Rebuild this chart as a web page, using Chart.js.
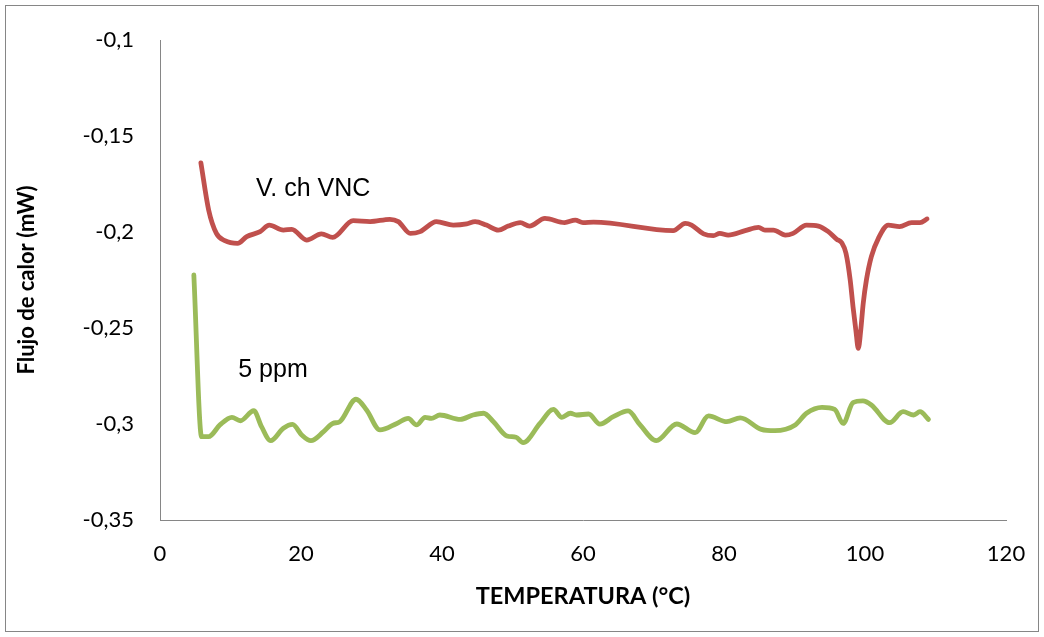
<!DOCTYPE html>
<html>
<head>
<meta charset="utf-8">
<script src="https://cdn.jsdelivr.net/npm/chart.js@4/dist/chart.umd.min.js"></script>
<style>
  body { margin: 0; background: #fff; }
  #wrap { width: 1044px; height: 637px; position: relative; }
</style>
</head>
<body>
<div id="wrap"><canvas id="myChart" width="1044" height="637"></canvas></div>
<script>
// temperatura (°C) y flujo de calor (mW)
const tempVNC = [5.8, 6.9, 8.0, 9.2, 11.0, 12.3, 14.2, 15.5, 17.5, 18.7, 20.8, 22.9, 24.5, 27.4, 29.8, 32.6, 33.8, 35.5, 36.9, 39.2, 41.6, 43.5, 44.7, 46.3, 48.0, 49.4, 51.1, 52.4, 54.6, 57.4, 58.9, 60.0, 61.5, 72.8, 74.5, 75.4, 77.1, 78.5, 79.4, 80.6, 83.0, 84.9, 85.8, 87.0, 88.7, 89.8, 91.7, 93.4, 94.8, 96.0, 96.7, 97.3, 97.9, 98.3, 98.7, 99.05, 99.4, 99.75, 100.2, 100.9, 101.9, 103.3, 104.9, 106.6, 107.8, 108.8]
const flujoVNC = [-0.164, -0.1885, -0.2007, -0.2045, -0.2059, -0.2024, -0.1998, -0.1964, -0.199, -0.1986, -0.2042, -0.201, -0.2028, -0.1941, -0.1946, -0.1934, -0.1946, -0.2007, -0.1998, -0.1946, -0.1964, -0.1958, -0.1946, -0.1964, -0.199, -0.1969, -0.1951, -0.1969, -0.1929, -0.1951, -0.1938, -0.1951, -0.1949, -0.1993, -0.1955, -0.1964, -0.201, -0.2019, -0.2007, -0.2016, -0.1993, -0.1976, -0.199, -0.199, -0.2016, -0.2007, -0.1964, -0.1969, -0.1998, -0.2038, -0.2056, -0.2111, -0.225, -0.2389, -0.251, -0.2606, -0.251, -0.2371, -0.225, -0.2128, -0.2033, -0.1964, -0.1972, -0.1951, -0.1951, -0.1932]

const temp5ppm = [4.8, 5.9, 6.9, 8.5, 10.2, 11.4, 13.3, 14.4, 15.7, 17.5, 18.8, 20.1, 21.4, 23.2, 24.5, 25.5, 27.8, 29.3, 31.2, 33.6, 35.2, 36.4, 37.6, 38.5, 39.7, 42.6, 44.4, 45.9, 47.3, 49.2, 50.5, 51.5, 53.9, 55.8, 57.0, 58.2, 59.1, 60.8, 62.4, 64.3, 66.4, 68.1, 70.4, 73.3, 75.9, 77.8, 80.4, 82.3, 85.3, 87.2, 90.1, 91.7, 93.9, 95.7, 96.9, 98.3, 99.7, 100.9, 103.5, 105.4, 106.9, 107.8, 109.0]
const flujo5ppm = [-0.2224, -0.3066, -0.3066, -0.3005, -0.2965, -0.2983, -0.2931, -0.3014, -0.3087, -0.3022, -0.3002, -0.3057, -0.3087, -0.304, -0.2997, -0.2988, -0.2871, -0.2927, -0.3031, -0.2997, -0.2971, -0.3005, -0.2965, -0.2971, -0.2953, -0.2976, -0.2953, -0.2944, -0.2988, -0.3062, -0.3069, -0.3097, -0.2997, -0.2924, -0.2965, -0.2944, -0.2953, -0.2948, -0.3001, -0.2962, -0.2932, -0.3005, -0.3087, -0.3, -0.3045, -0.2958, -0.2988, -0.2968, -0.3028, -0.3035, -0.3005, -0.2944, -0.2913, -0.2924, -0.2997, -0.2889, -0.288, -0.2901, -0.2993, -0.2936, -0.2953, -0.2936, -0.2976]

// etiquetas dentro del grafico
const labelTexts = ["V. ch VNC", "5 ppm"]
const labelX = [13.6, 11.1]
const labelY = [-0.1776, -0.2719]

const xTicks = [0, 20, 40, 60, 80, 100, 120]

const axisColor = "#868686"

function toPoints(xs, ys) {
    let pts = []
    for (let index = 0; index < xs.length; index++) {
        pts.push({ x: xs[index], y: ys[index] })
    }
    return pts
}

const frameAndLabels = {
    id: "frameAndLabels",
    beforeDraw(chart) {
        const ctx = chart.ctx
        ctx.save()
        ctx.strokeStyle = axisColor
        ctx.lineWidth = 1
        ctx.strokeRect(5.5, 5.5, 1033, 626)
        ctx.restore()
    },
    afterDatasetsDraw(chart) {
        const ctx = chart.ctx
        ctx.save()
        ctx.fillStyle = "#000"
        ctx.font = "25px 'Liberation Sans', Arial, sans-serif"
        ctx.textBaseline = "middle"
        for (let index = 0; index < labelTexts.length; index++) {
            ctx.fillText(labelTexts[index],
                chart.scales.x.getPixelForValue(labelX[index]),
                chart.scales.y.getPixelForValue(labelY[index]))
        }
        ctx.restore()
    }
}

var ctx = document.getElementById("myChart").getContext("2d")
var chart = new Chart(ctx, {
    type: "line",
    data: {
        datasets: [{
            label: "V. ch VNC",
            data: toPoints(tempVNC, flujoVNC),
            borderColor: "#C0504D",
            borderWidth: 4.8,
            pointRadius: 0,
            cubicInterpolationMode: "monotone",
            borderCapStyle: "round",
            borderJoinStyle: "round"
        }, {
            label: "5 ppm",
            data: toPoints(temp5ppm, flujo5ppm),
            borderColor: "#9BBB59",
            borderWidth: 4.8,
            pointRadius: 0,
            cubicInterpolationMode: "monotone",
            borderCapStyle: "round",
            borderJoinStyle: "round"
        }]
    },
    options: {
        responsive: false,
        animation: false,
        layout: { padding: { left: 10, right: 38, top: 40, bottom: 22 } },
        plugins: {
            legend: { display: false },
            tooltip: { enabled: false }
        },
        scales: {
            x: {
                type: "linear",
                min: 0,
                max: 120,
                afterBuildTicks: (scale) => { scale.ticks = xTicks.map(v => ({ value: v })) },
                afterFit: (scale) => { scale.height = 95 },
                grid: { display: false, drawTicks: true, tickLength: 7, tickColor: axisColor },
                border: { color: axisColor, width: 1 },
                ticks: {
                    color: "#000",
                    font: { family: "Lato", size: 22 },
                    padding: 14
                },
                title: {
                    display: true,
                    text: "TEMPERATURA (°C)",
                    color: "#000",
                    font: { family: "Lato", size: 23.5, weight: "bold" },
                    padding: { top: 10 }
                }
            },
            y: {
                min: -0.35,
                max: -0.1,
                afterFit: (scale) => { scale.width = 150 },
                grid: { display: false, drawTicks: false },
                border: { color: axisColor, width: 1 },
                ticks: {
                    stepSize: 0.05,
                    color: "#000",
                    font: { family: "Lato", size: 22 },
                    padding: 26,
                    callback: (v) => (Math.round(v * 100) / 100).toString().replace(".", ",")
                },
                title: {
                    display: true,
                    text: "Flujo de calor (mW)",
                    color: "#000",
                    font: { family: "Lato", size: 22, weight: "bold" },
                    padding: { bottom: 0 }
                }
            }
        }
    },
    plugins: [frameAndLabels]
})
</script>
</body>
</html>
